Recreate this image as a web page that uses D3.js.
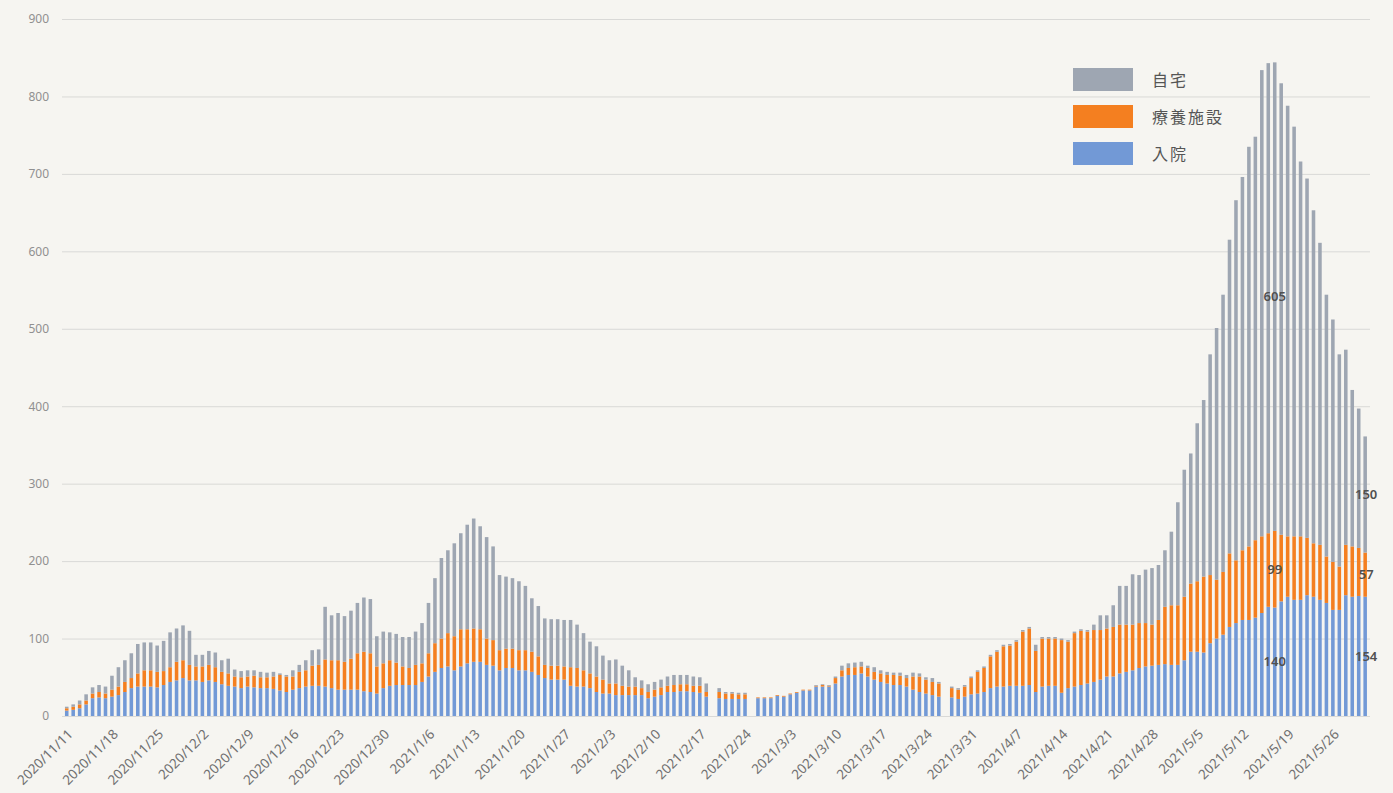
<!DOCTYPE html>
<html><head><meta charset="utf-8">
<script src="https://cdn.jsdelivr.net/npm/d3@7"></script>
<style>
body{margin:0;background:#f6f5f1;}
svg{display:block;}
</style>
</head><body>
<svg id="chart" width="1393" height="793"></svg>
<script>
// ---- data ----
const startDate = "2020-11-11";
const endDate = "2021-05-31";
const seriesKeys = ["入院", "療養施設", "自宅"];
const legendOrder = ["自宅", "療養施設", "入院"];
const colors = {"入院": "#7299d6", "療養施設": "#f47f20", "自宅": "#9ea6b2"};

const nyuin = [7,8,10,15,23,24,23,25,27,31,36,38,38,38,37,40,44,46,49,46,
46,44,46,44,41,39,38,36,38,37,36,36,35,33,31,34,36,38,39,39,
38,36,34,34,34,34,32,31,29,36,39,40,40,40,40,44,51,57,62,64,
59,64,68,70,70,66,65,59,62,62,59,59,57,53,49,47,47,47,39,38,
38,36,31,29,29,27,27,27,27,27,23,25,27,31,31,32,32,31,30,25,
null,23,22,22,22,22,null,23,23,23,26,25,28,30,33,33,38,38,38,42,
51,53,53,55,51,47,44,42,40,40,38,34,31,29,27,25,null,24,22,25,
28,29,31,36,38,38,39,39,39,40,31,38,39,39,30,36,38,40,42,44,
47,51,51,55,57,59,62,64,65,66,67,66,66,72,83,83,82,94,100,105,
115,120,124,124,127,133,141,140,148,154,150,150,156,154,150,146,137,137,156,154,
155,154];
const ryoyo = [3,4,5,5,6,7,6,9,11,13,13,17,21,21,20,18,19,24,23,20,
18,20,20,19,16,16,13,14,13,15,14,14,16,20,20,17,21,21,26,27,
35,36,38,36,40,47,51,50,35,32,33,29,24,22,26,24,30,37,38,43,
44,48,44,43,42,34,33,26,25,25,26,26,26,24,17,18,18,17,24,24,
21,19,20,18,13,15,12,11,11,9,8,9,10,8,9,9,9,8,9,6,
null,8,7,7,6,6,null,1,1,1,1,1,1,1,1,1,1,2,1,7,
8,9,10,9,11,10,11,11,13,12,11,17,20,18,17,17,null,12,12,13,
21,28,31,41,45,52,52,57,70,73,53,62,61,61,68,60,69,70,67,67,
64,62,64,63,61,59,58,56,53,58,74,77,77,82,88,91,98,88,76,81,
95,81,90,95,100,99,95,99,86,78,82,82,74,69,71,60,62,56,65,65,
62,57];
const jitaku = [2,3,5,8,8,9,9,18,25,28,32,38,36,36,34,39,45,43,45,44,
15,15,18,19,15,19,9,8,8,7,7,6,6,2,2,8,9,13,20,20,
68,58,61,59,62,65,70,70,39,41,36,37,38,40,43,52,65,84,104,107,
120,124,135,142,133,131,121,97,93,91,89,83,69,65,60,60,60,60,61,56,
48,41,39,31,30,31,26,21,12,10,10,10,10,12,13,12,12,12,11,11,
null,5,2,2,2,2,null,0,0,0,0,0,0,0,0,0,1,1,1,2,
6,6,6,6,3,6,4,4,3,4,4,5,4,3,5,2,null,2,2,2,
2,2,2,2,2,2,2,2,2,2,8,2,2,2,2,2,2,2,2,7,
19,17,28,50,50,65,62,69,73,71,73,95,133,164,168,204,228,285,325,358,
405,465,482,516,521,602,607,605,583,556,529,484,464,430,390,338,313,274,252,202,
180,150];
const yTickValues = [0,100,200,300,400,500,600,700,800,900];
const xTickLabels = ["2020/11/11","2020/11/18","2020/11/25","2020/12/2","2020/12/9","2020/12/16",
"2020/12/23","2020/12/30","2021/1/6","2021/1/13","2021/1/20","2021/1/27","2021/2/3","2021/2/10",
"2021/2/17","2021/2/24","2021/3/3","2021/3/10","2021/3/17","2021/3/24","2021/3/31","2021/4/7",
"2021/4/14","2021/4/21","2021/4/28","2021/5/5","2021/5/12","2021/5/19","2021/5/26"];
const labelledDates = ["2021/5/17", "2021/5/31"];

// ---- build ----
const parse = d3.timeParse("%Y-%m-%d");
const fmt = d3.timeFormat("%Y/%-m/%-d");
const dates = d3.timeDay.range(parse(startDate), d3.timeDay.offset(parse(endDate), 1)).map(fmt);
const rows = dates.map((d, i) => ({date: d, "入院": nyuin[i], "療養施設": ryoyo[i], "自宅": jitaku[i]}));
const valid = rows.filter(r => r["入院"] !== null);

const svg = d3.select("#chart");
const plotLeft = 62, plotRight = 1370;

const x = d3.scaleBand().domain(dates).range([63.5, 1368.4]).paddingInner(0.45).paddingOuter(0.225);
const y = d3.scaleLinear().domain([0, 900]).range([716, 19]);

// grid + y axis
const yAxis = d3.axisLeft(y).tickValues(yTickValues).tickSize(-(plotRight - plotLeft)).tickPadding(13);
const gy = svg.append("g").attr("transform", `translate(${plotLeft},0)`).call(yAxis);
gy.select(".domain").remove();
gy.selectAll(".tick line").attr("stroke", "#d9d9d7").attr("stroke-width", 1);
gy.selectAll(".tick text").attr("fill", "#909090").style("font-family", "'Noto Sans', sans-serif").style("font-size", "12px");

// bars
const stack = d3.stack().keys(seriesKeys);
const stacked = stack(valid);
svg.append("g").selectAll("g").data(stacked).join("g")
  .attr("fill", d => colors[d.key])
  .selectAll("rect").data(d => d).join("rect")
  .attr("x", d => x(d.data.date))
  .attr("width", x.bandwidth())
  .attr("y", d => y(d[1]))
  .attr("height", d => Math.max(0, y(d[0]) - y(d[1])));

// x axis labels
const xAxis = d3.axisBottom(x).tickValues(xTickLabels).tickSize(0).tickPadding(0);
const gx = svg.append("g").attr("transform", "translate(0,722)").call(xAxis);
gx.select(".domain").remove();
gx.selectAll(".tick text")
  .attr("fill", "#707070")
  .style("font-family", "'Noto Sans', sans-serif").style("font-size", "13.5px")
  .attr("text-anchor", "end")
  .attr("dy", "0")
  .attr("y", 0)
  .attr("transform", "translate(7,13) rotate(-45)");

// data labels
const lab = svg.append("g").style("font-family", "'Noto Sans', sans-serif").style("font-size", "13px")
  .attr("fill", "#505050").attr("text-anchor", "middle").attr("font-weight", 600);
stacked.forEach(s => {
  s.filter(d => labelledDates.includes(d.data.date)).forEach(d => {
    lab.append("text")
      .attr("x", x(d.data.date) + x.bandwidth() / 2 + (d.data.date === "2021/5/31" ? 1 : 0))
      .attr("y", (y(d[0]) + y(d[1])) / 2)
      .attr("dy", "0.35em")
      .text(d.data[s.key]);
  });
});

// legend
const lg = svg.append("g").attr("transform", "translate(1073,68)");
legendOrder.forEach((k, i) => {
  const g = lg.append("g").attr("transform", `translate(0,${i * 37})`);
  g.append("rect").attr("width", 60).attr("height", 23).attr("fill", colors[k]);
  g.append("text").attr("x", 79).attr("y", 12).attr("dy", "0.35em")
    .style("font-family", "'Noto Sans CJK JP', sans-serif").style("font-size", "16px")
    .style("letter-spacing", "2px").attr("fill", "#555").text(k);
});
</script>
</body></html>
